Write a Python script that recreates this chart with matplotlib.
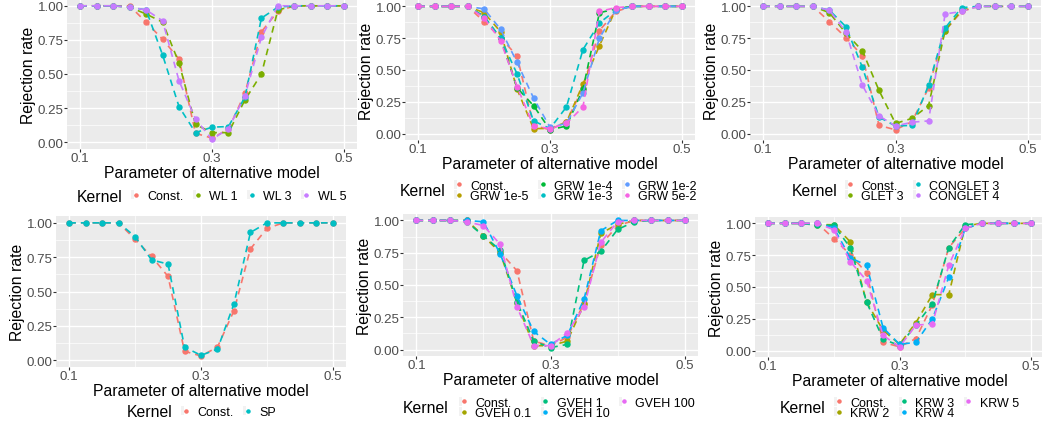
import matplotlib
matplotlib.use('Agg')
import matplotlib.pyplot as plt
from matplotlib.lines import Line2D
from matplotlib.patches import Rectangle
from matplotlib.legend_handler import HandlerTuple

plt.rcParams['font.family'] = ['Liberation Sans', 'DejaVu Sans']

# parameter grid of the alternative model (same for every panel)
param = [0.1, 0.125, 0.15, 0.175, 0.2, 0.225, 0.25, 0.275, 0.3,
         0.325, 0.35, 0.375, 0.4, 0.425, 0.45, 0.475, 0.5]

# rejection rates
const = [1, 1, 1, 1.0, 0.88, 0.755, 0.61, 0.065, 0.03, 0.095, 0.36, 0.81, 0.96, 1, 1, 1, 1]

wl1 = [1, 1, 1, 0.99, 0.94, 0.88, 0.58, 0.13, 0.07, 0.07, 0.31, 0.50, 0.97, 1, 1, 1, 1]
wl3 = [1, 1, 1, 0.99, 0.97, 0.64, 0.26, 0.07, 0.11, 0.115, 0.33, 0.91, 0.99, 1, 1, 1, 1]
wl5 = [1, 1, 1, 0.99, 0.97, 0.89, 0.45, 0.17, 0.02, 0.10, 0.34, 0.77, 1.0, 1, 1, 1, 1]

grw_1e5 = [1, 1, 1, 1, 0.95, 0.80, 0.35, 0.04, 0.04, 0.09, 0.39, 0.69, 0.98, 1, 1, 1, 1]
grw_1e4 = [1, 1, 1, 1, 0.92, 0.75, 0.36, 0.22, 0.03, 0.06, 0.35, 0.95, 0.98, 1, 1, 1, 1]
grw_1e3 = [1, 1, 1, 1, 0.92, 0.75, 0.47, 0.10, 0.04, 0.21, 0.66, 0.87, 0.97, 1, 1, 1, 1]
grw_1e2 = [1, 1, 1, 1, 0.98, 0.82, 0.56, 0.28, 0.05, 0.08, 0.32, 0.75, 0.97, 1, 1, 1, 1]
grw_5e2 = [1, 1, 1, 1, 0.91, 0.73, 0.37, 0.06, 0.04, 0.08, 0.21, 0.96, 0.99, 1, 1, 1, 1]

glet3 = [1, 1, 1, 1, 0.95, 0.79, 0.65, 0.34, 0.08, 0.12, 0.22, 0.81, 0.97, 1, 1, 1, 1]
conglet3 = [1, 1, 1, 1, 0.97, 0.84, 0.52, 0.13, 0.06, 0.065, 0.38, 0.83, 0.99, 1, 1, 1, 1]
conglet4 = [1, 1, 1, 1, 0.97, 0.80, 0.38, 0.14, 0.06, 0.09, 0.10, 0.94, 0.96, 1, 1, 1, 1]

sp = [1, 1, 1, 1, 0.90, 0.73, 0.70, 0.095, 0.035, 0.08, 0.41, 0.93, 1.0, 1, 1, 1, 1]

gveh_01 = [1, 1, 1, 1.0, 0.88, 0.75, 0.36, 0.03, 0.03, 0.065, 0.35, 0.90, 0.97, 1, 1, 1, 1]
gveh_1 = [1, 1, 1, 0.99, 0.88, 0.77, 0.37, 0.065, 0.015, 0.04, 0.69, 0.76, 0.93, 0.99, 1, 1, 1]
gveh_10 = [1, 1, 1, 1.0, 0.99, 0.74, 0.415, 0.14, 0.04, 0.11, 0.39, 0.92, 1.0, 1, 1, 1, 1]
gveh_100 = [1, 1, 1, 0.99, 0.96, 0.815, 0.33, 0.03, 0.03, 0.13, 0.33, 0.83, 0.99, 1, 1, 1, 1]

krw2 = [1, 1, 1, 0.99, 0.99, 0.855, 0.38, 0.16, 0.05, 0.22, 0.44, 0.44, 0.98, 1, 1, 1, 1]
krw3 = [1, 1, 1, 0.985, 0.985, 0.81, 0.38, 0.09, 0.04, 0.20, 0.37, 0.81, 0.99, 1, 1, 1, 1]
krw4 = [1, 1, 1, 1.0, 0.965, 0.73, 0.67, 0.18, 0.05, 0.065, 0.25, 0.575, 0.96, 1, 1, 1, 1]
krw5 = [1, 1, 1, 1.0, 0.95, 0.70, 0.55, 0.12, 0.03, 0.20, 0.21, 0.67, 0.96, 1, 1, 1, 1]

# ggplot default hue palettes
hue2 = ['#F8766D', '#00BFC4']
hue4 = ['#F8766D', '#7CAE00', '#00BFC4', '#C77CFF']
hue5 = ['#F8766D', '#A3A500', '#00BF7D', '#00B0F6', '#E76BF3']
hue6 = ['#F8766D', '#B79F00', '#00BA38', '#00BFC4', '#619CFF', '#F564E3']

panels = [
    dict(labels=['Const.', 'WL 1', 'WL 3', 'WL 5'],
         series=[const, wl1, wl3, wl5], colors=hue4, ncol=4),
    dict(labels=['Const.', 'GRW 1e-5', 'GRW 1e-4', 'GRW 1e-3', 'GRW 1e-2', 'GRW 5e-2'],
         series=[const, grw_1e5, grw_1e4, grw_1e3, grw_1e2, grw_5e2], colors=hue6, ncol=3),
    dict(labels=['Const.', 'GLET 3', 'CONGLET 3', 'CONGLET 4'],
         series=[const, glet3, conglet3, conglet4], colors=hue4, ncol=2),
    dict(labels=['Const.', 'SP'], series=[const, sp], colors=hue2, ncol=2),
    dict(labels=['Const.', 'GVEH 0.1', 'GVEH 1', 'GVEH 10', 'GVEH 100'],
         series=[const, gveh_01, gveh_1, gveh_10, gveh_100], colors=hue5, ncol=3),
    dict(labels=['Const.', 'KRW 2', 'KRW 3', 'KRW 4', 'KRW 5'],
         series=[const, krw2, krw3, krw4, krw5], colors=hue5, ncol=3),
]

# pixel layout: panel box (left, right, top, bottom), "Kernel" x, legend left, legend y
layout = [
    ((67, 357, 0, 150), 77, 131, 197),
    ((405, 695, 1, 141), 400, 454, 192),
    ((750, 1041, 1, 141), 792, 845, 192),
    ((56, 346, 217, 368), 127, 181, 413),
    ((403, 698, 215, 357), 403, 459, 409),
    ((755, 1044, 218, 358), 780, 834, 409),
]

W, H = 1042, 427
fig = plt.figure(figsize=(W / 100, H / 100), dpi=100)

for spec, (box, kx, lx, ly) in zip(panels, layout):
    l, r, t, b = box
    ax = fig.add_axes([l / W, 1 - b / H, (r - l) / W, (b - t) / H])
    ax.set_facecolor('#EBEBEB')
    for s in ax.spines.values():
        s.set_visible(False)

    for vals, col in zip(spec['series'], spec['colors']):
        ax.plot(param, vals, color=col, lw=1.2, ls=(0, (4, 3)),
                marker='o', ms=3.6, mec=col, mfc=col)

    ax.set_xlim(0.08, 0.52)
    ax.set_ylim(-0.05, 1.05)
    ax.set_xticks([0.1, 0.3, 0.5])
    ax.set_xticklabels(['0.1', '0.3', '0.5'])
    ax.set_yticks([0, 0.25, 0.5, 0.75, 1.0])
    ax.set_yticklabels(['0.00', '0.25', '0.50', '0.75', '1.00'])
    ax.set_xticks([0.2, 0.4], minor=True)
    ax.set_yticks([0.125, 0.375, 0.625, 0.875], minor=True)
    ax.grid(which='major', color='white', lw=1.0)
    ax.grid(which='minor', color='white', lw=0.5)
    ax.set_axisbelow(True)
    ax.tick_params(which='major', length=2.5, width=0.8, color='#333333',
                   labelcolor='#4D4D4D', labelsize=9.6, pad=0)
    ax.tick_params(axis='x', pad=-0.5)
    ax.tick_params(which='minor', length=0)
    ax.set_xlabel('Parameter of alternative model', fontsize=11.3, labelpad=1)
    ax.set_ylabel('Rejection rate', fontsize=11.3, labelpad=1)

    # legend below each panel, title on the left
    fig.text(kx / W, 1 - ly / H, 'Kernel', fontsize=11.3, ha='left', va='center')
    handles = []
    for col in spec['colors']:
        box_patch = Rectangle((0, 0), 1, 1, facecolor='#F2F2F2', edgecolor='none')
        key = Line2D([], [], color=col, lw=0.8, ls=(0, (1.5, 1)),
                     marker='o', ms=2.2, mec=col, mfc=col)
        handles.append((box_patch, key))
    nrow = -(-len(spec['labels']) // spec['ncol'])
    fig.legend(handles, spec['labels'], ncol=spec['ncol'],
               handler_map={tuple: HandlerTuple(ndivide=None)},
               loc='center left', bbox_to_anchor=(lx / W, 1 - ly / H),
               bbox_transform=fig.transFigure, frameon=False, fontsize=9,
               handlelength=0.5, handleheight=0.75, handletextpad=0.8,
               columnspacing=0.75, labelspacing=-0.15 if nrow > 1 else 0.5,
               borderpad=0, borderaxespad=0)

fig.savefig('out.png', dpi=100)
